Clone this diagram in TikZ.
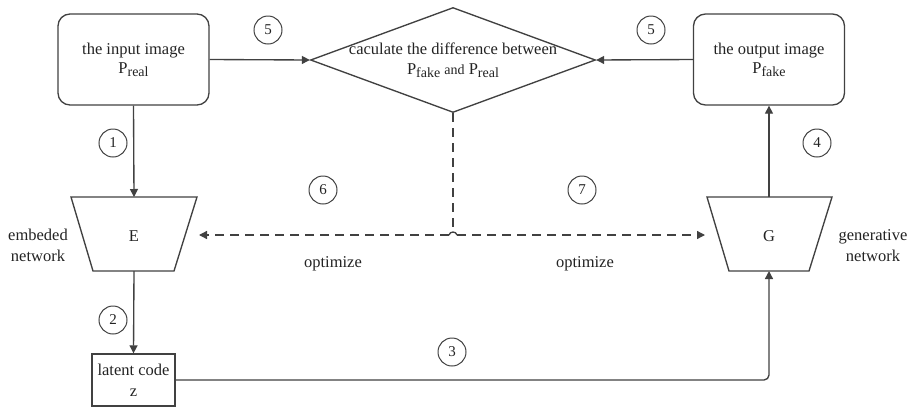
\documentclass[tikz,border=0pt]{standalone}
\usepackage{fontspec}
\setmainfont{Liberation Serif}
\usetikzlibrary{arrows.meta,shapes.geometric}
\definecolor{linec}{RGB}{65,65,65}
\definecolor{textc}{RGB}{35,35,35}
\newcommand\Psub[1]{P\raisebox{-0.4ex}{\fontsize{14}{14}\selectfont #1}}
\begin{document}
\begin{tikzpicture}[x=1pt,y=-1pt,
  line/.style={draw=linec, line width=1.35pt},
  arr/.style={line, -{Triangle[length=8pt,width=8pt]}},
  dline/.style={line, dash pattern=on 9pt off 6pt},
  num/.style={circle, draw=linec, line width=1pt, minimum size=28pt, inner sep=0pt, text=textc, font=\fontsize{15}{15}\selectfont},
  lbl/.style={text=textc, align=center, font=\fontsize{16.5}{21}\selectfont},
  imgbox/.style={line, rounded corners=12pt, minimum width=151pt, minimum height=91pt, text=textc, align=center, font=\fontsize{16.5}{21}\selectfont}
]
\useasboundingbox (0,0) rectangle (919,408);

% boxes
\node[imgbox] (in) at (133.5,59.5) {the input image\\[-2pt]\Psub{real}};
\node[imgbox] (out) at (769,59.5) {the output image\\[-2pt]\Psub{fake}};
\node[diamond, line, minimum width=285pt, minimum height=105pt, inner sep=0pt] (diff) at (453,60) {};
\node[lbl] (difftxt) at (453,60) {caculate the difference between\\[-1pt]\Psub{fake} {\fontsize{14}{14}\selectfont and} \Psub{real}};

% trapezoids
\draw[line] (71,197) -- (197,197) -- (174,271) -- (93,271) -- cycle;
\node[lbl] (E) at (134,236) {E};
\coordinate (Etop) at (134,197);
\coordinate (Ebot) at (134,271);
\draw[line] (707,197) -- (832,197) -- (809,271) -- (729,271) -- cycle;
\node[lbl] (G) at (769,236) {G};
\coordinate (Gtop) at (769,197);
\coordinate (Gbot) at (769,271);

\node[line, minimum width=83pt, minimum height=52pt, inner sep=0pt, text=textc, align=center, font=\fontsize{16.5}{21}\selectfont] (lat) at (133.5,380) {latent code\\z};

% side labels
\node[lbl] (embl) at (38,245) {embeded\\network};
\node[lbl] (genl) at (873,246) {generative\\network};
\node[lbl] (opt1) at (333,264) {optimize};
\node[lbl] (opt2) at (585,264) {optimize};

% connectors
\draw[arr] (in.east) -- (diff.west);
\draw[arr] (out.west) -- (diff.east);
\draw[arr] (in.south) -- (Etop);
\draw[arr] (Ebot) -- (lat.north);
\draw[arr, rounded corners=5pt] (lat.east) -| (Gbot);
\draw[arr] (Gtop) -- (out.south);

% dashed optimize lines
\coordinate (Jl) at (449,235);
\coordinate (Jr) at (457,235);
\coordinate (Jt) at (453,232.5);
\coordinate (Eopt) at (199,235);
\coordinate (Gopt) at (705,235);
\draw[dline] (diff.south) -- (Jt);
\draw[line] (Jl) .. controls (450,231) and (456,231) .. (Jr);
\draw[dline, -{Triangle[length=8pt,width=8pt]}] (Jl) -- (Eopt);
\draw[dline, -{Triangle[length=8pt,width=8pt]}] (Jr) -- (Gopt);

% numbers
\node[num] (n5a) at (268,30) {5};
\node[num] (n5b) at (651,30) {5};
\node[num] (n1) at (113,143) {1};
\node[num] (n2) at (113,320) {2};
\node[num] (n3) at (452,352) {3};
\node[num] (n4) at (817,143) {4};
\node[num] (n6) at (323,190) {6};
\node[num] (n7) at (582,190) {7};
\end{tikzpicture}
\end{document}
